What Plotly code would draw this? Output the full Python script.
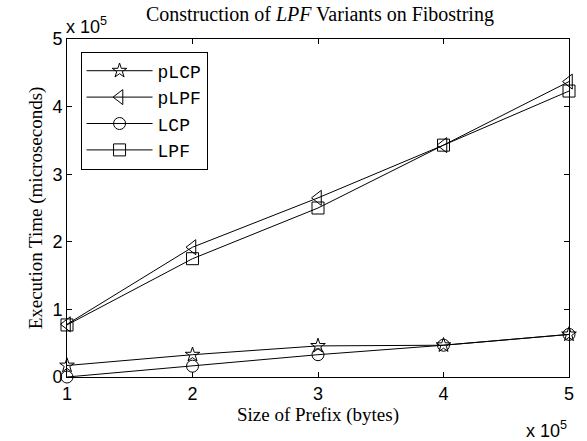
import plotly.graph_objects as go

prefix_sizes = [100000, 200000, 300000, 400000, 500000]
plcp = [17000, 33000, 46000, 47000, 63000]
plpf = [78000, 192000, 265000, 343000, 437000]
lcp = [0, 16000, 33000, 47000, 63000]
lpf = [77000, 175000, 250000, 343000, 423000]
x_ticks = [100000, 200000, 300000, 400000, 500000]
x_tick_labels = ["1", "2", "3", "4", "5"]
y_ticks = [0, 100000, 200000, 300000, 400000, 500000]
y_tick_labels = ["0", "1", "2", "3", "4", "5"]

series = [
    ("pLCP", plcp, "star-open", 11),
    ("pLPF", plpf, "triangle-left-open", 13),
    ("LCP", lcp, "circle-open", 12),
    ("LPF", lpf, "square-open", 12),
]

SERIF = "Liberation Serif"
SANS = "Liberation Sans"
MONO = "Courier New, Liberation Mono, DejaVu Sans Mono, monospace"

fig = go.Figure()
for name, vals, sym, sz in series:
    fig.add_trace(go.Scatter(
        x=prefix_sizes, y=vals, name=name, mode="lines+markers",
        line=dict(color="black", width=1),
        marker=dict(symbol=sym, size=sz, color="black", line=dict(width=1, color="black")),
        cliponaxis=False,
    ))

axis_common = dict(showline=True, linecolor="black", linewidth=1, mirror="ticks",
                   ticks="inside", ticklen=5, tickcolor="black", showgrid=False,
                   zeroline=False, tickfont=dict(family=SANS, size=18, color="black"))

fig.update_layout(
    width=587, height=441,
    margin=dict(l=67, r=18, t=39, b=64),
    paper_bgcolor="white", plot_bgcolor="white",
    title=dict(text="Construction of <i>LPF</i> Variants on Fibostring", x=0.545, xanchor="center",
               y=0.968, yanchor="middle",
               font=dict(family=SERIF, size=20, color="black")),
    xaxis=dict(range=[100000, 500000], tickvals=x_ticks, ticktext=x_tick_labels,
               title=dict(text="Size of Prefix (bytes)", standoff=5,
                          font=dict(family=SERIF, size=19, color="black")),
               **axis_common),
    yaxis=dict(range=[0, 500000], tickvals=y_ticks, ticktext=y_tick_labels,
               title=dict(text="Execution Time (microseconds)", standoff=4,
                          font=dict(family=SERIF, size=19, color="black")),
               **axis_common),
    legend=dict(x=0.027, y=0.963, xanchor="left", yanchor="top",
                bgcolor="white", bordercolor="black", borderwidth=1,
                font=dict(family=MONO, size=18, color="black"),
                itemwidth=66, tracegroupgap=0),
    showlegend=True,
)

fig.add_annotation(xref="paper", yref="paper", x=-0.005, y=1.0, xanchor="left", yanchor="bottom",
                   text="x 10<sup>5</sup>", showarrow=False,
                   font=dict(family=SANS, size=18, color="black"))
fig.add_annotation(xref="paper", yref="paper", x=1.0, y=-0.115, xanchor="right", yanchor="top",
                   text="x 10<sup>5</sup>", showarrow=False,
                   font=dict(family=SANS, size=18, color="black"))

fig.write_html("out.html")
